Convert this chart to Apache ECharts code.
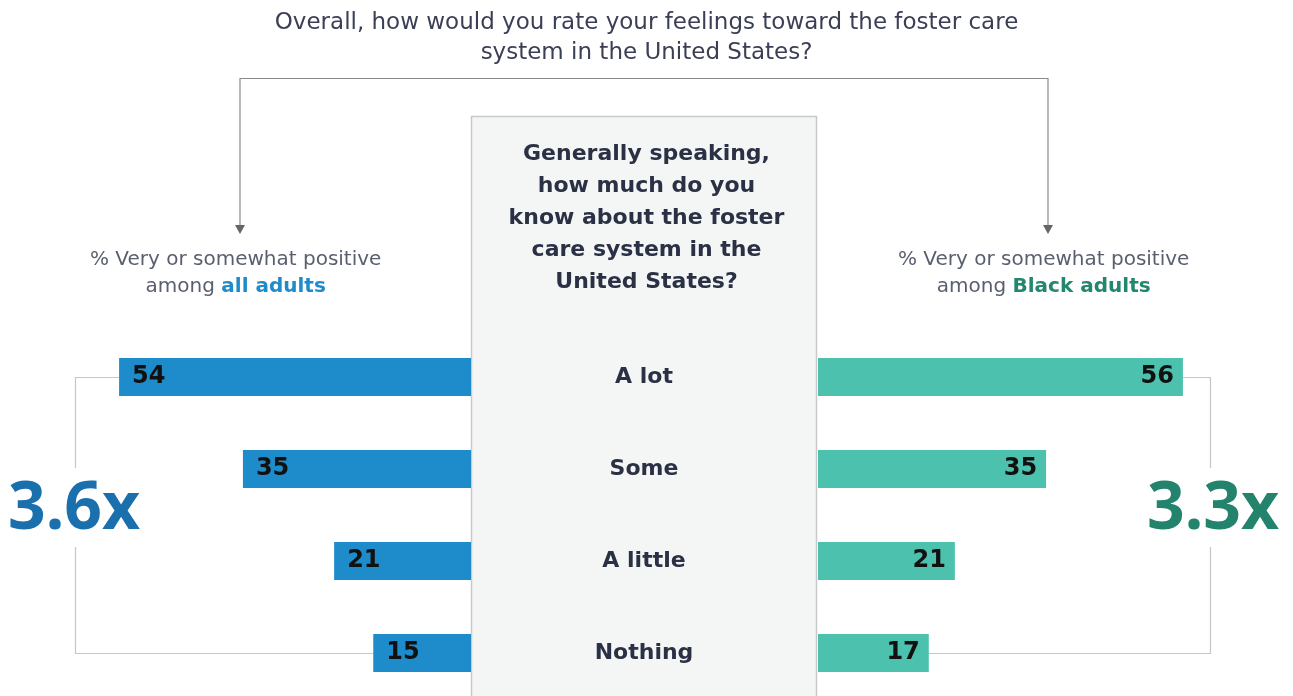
<!DOCTYPE html>
<html lang="en">
<head>
    <meta charset="UTF-8">
    <title>Foster care</title>
    <script src="https://cdn.jsdelivr.net/npm/echarts@6/dist/echarts.min.js"></script>
    <style>
        *{
            margin: 0;
            padding: 0;
        }
        .container{
            width: 1293px;
            height: 696px;
        }
    </style>
</head>
<body>
<div class="container"></div>
<script>
    let categories = ['A lot', 'Some', 'A little', 'Nothing'];
    let allAdults = [54, 35, 21, 15];
    let blackAdults = [56, 35, 21, 17];
    let ratios = ['3.6x', '3.3x'];

    let font = '"DejaVu Sans", sans-serif';
    let bigFont = '"Noto Sans", sans-serif';
    let dark = '#2b3145';
    let grey = '#8a8a8a';
    let blue = '#1e8bcb';
    let teal = '#4cc1ad';

    let mycharts = echarts.init(document.querySelector('.container'));

    let barLabel = {
        show: true,
        color: '#111',
        fontSize: 24,
        fontWeight: 'bold',
        fontFamily: font
    };

    let Option = {
        backgroundColor: '#fff',
        title: {
            text: 'Overall, how would you rate your feelings toward the foster care\nsystem in the United States?',
            left: 'center',
            top: 3,
            textStyle: {
                fontSize: 23,
                fontWeight: 'normal',
                fontFamily: font,
                color: '#3a3f55',
                lineHeight: 30
            }
        },
        grid: [
            {left: 80, width: 391, top: 331, height: 368, outerBoundsMode: 'none'},
            {left: 818, width: 391, top: 331, height: 368, outerBoundsMode: 'none'}
        ],
        xAxis: [
            {gridIndex: 0, type: 'value', min: 0, max: 60, inverse: true, show: false},
            {gridIndex: 1, type: 'value', min: 0, max: 60, show: false}
        ],
        yAxis: [
            {
                gridIndex: 0, type: 'category', data: categories, inverse: true,
                axisLine: {show: false}, axisTick: {show: false}, axisLabel: {show: false}
            },
            {
                gridIndex: 1, type: 'category', data: categories, inverse: true,
                axisLine: {show: false}, axisTick: {show: false},
                axisLabel: {
                    margin: 174,
                    align: 'center',
                    fontSize: 22,
                    fontWeight: 'bold',
                    fontFamily: font,
                    color: dark
                }
            }
        ],
        series: [
            {
                name: 'All adults',
                type: 'bar',
                xAxisIndex: 0,
                yAxisIndex: 0,
                data: allAdults,
                barWidth: 38,
                itemStyle: {color: blue},
                label: Object.assign({position: 'insideLeft', distance: 13}, barLabel),
                z: 3
            },
            {
                name: 'Black adults',
                type: 'bar',
                xAxisIndex: 1,
                yAxisIndex: 1,
                data: blackAdults,
                barWidth: 38,
                itemStyle: {color: teal},
                label: Object.assign({position: 'insideRight', distance: 9}, barLabel),
                z: 3
            }
        ],
        graphic: [
            // centre box
            {
                type: 'rect', z: 0,
                shape: {x: 471.5, y: 116.5, width: 345, height: 600},
                style: {fill: '#f4f5f5', stroke: '#c9c9c9', lineWidth: 1.5}
            },
            {
                type: 'text', z: 1, left: 'center', x: 0, top: 138,
                style: {
                    text: 'Generally speaking,\nhow much do you\nknow about the foster\ncare system in the\nUnited States?',
                    x: 644, textAlign: 'center',
                    fontSize: 22, fontWeight: 'bold', fontFamily: font,
                    fill: dark, lineHeight: 32
                }
            },
            // top connector with arrows
            {
                type: 'polyline', z: 1,
                shape: {points: [[240, 226], [240, 78.5], [1048, 78.5], [1048, 226]]},
                style: {stroke: grey, lineWidth: 1.2, fill: null}
            },
            {
                type: 'polygon', z: 1,
                shape: {points: [[235, 225], [245, 225], [240, 234]]},
                style: {fill: '#666'}
            },
            {
                type: 'polygon', z: 1,
                shape: {points: [[1043, 225], [1053, 225], [1048, 234]]},
                style: {fill: '#666'}
            },
            // group subtitles
            {
                type: 'text', z: 1, left: 90, top: 250,
                style: {
                    text: '{n|% Very or somewhat positive}\n{n|among }{b|all adults}',
                    textAlign: 'center', width: 300,
                    rich: {
                        n: {fontSize: 20, fontFamily: font, fill: '#5a5f70', lineHeight: 27},
                        b: {fontSize: 20, fontFamily: font, fill: blue, fontWeight: 'bold', lineHeight: 27}
                    }
                }
            },
            {
                type: 'text', z: 1, left: 898, top: 250,
                style: {
                    text: '{n|% Very or somewhat positive}\n{n|among }{b|Black adults}',
                    textAlign: 'center', width: 300,
                    rich: {
                        n: {fontSize: 20, fontFamily: font, fill: '#5a5f70', lineHeight: 27},
                        b: {fontSize: 20, fontFamily: font, fill: '#23866e', fontWeight: 'bold', lineHeight: 27}
                    }
                }
            },
            // side brackets
            {
                type: 'polyline', z: 1,
                shape: {points: [[119, 377.5], [75.5, 377.5], [75.5, 468]]},
                style: {stroke: '#c6c6c6', lineWidth: 1.2, fill: null}
            },
            {
                type: 'polyline', z: 1,
                shape: {points: [[75.5, 547], [75.5, 653.5], [373, 653.5]]},
                style: {stroke: '#c6c6c6', lineWidth: 1.2, fill: null}
            },
            {
                type: 'polyline', z: 1,
                shape: {points: [[1183, 377.5], [1210.5, 377.5], [1210.5, 468]]},
                style: {stroke: '#c6c6c6', lineWidth: 1.2, fill: null}
            },
            {
                type: 'polyline', z: 1,
                shape: {points: [[1210.5, 547], [1210.5, 653.5], [929, 653.5]]},
                style: {stroke: '#c6c6c6', lineWidth: 1.2, fill: null}
            },
            {
                type: 'text', z: 2, x: 74, y: 510,
                style: {
                    text: ratios[0], textAlign: 'center', textVerticalAlign: 'middle',
                    fontSize: 66, fontWeight: 'bold', fontFamily: bigFont, fill: '#1a6fad'
                }
            },
            {
                type: 'text', z: 2, x: 1213, y: 510,
                style: {
                    text: ratios[1], textAlign: 'center', textVerticalAlign: 'middle',
                    fontSize: 66, fontWeight: 'bold', fontFamily: bigFont, fill: '#23836c'
                }
            }
        ]
    };

    mycharts.setOption(Option);
</script>
</body>
</html>
